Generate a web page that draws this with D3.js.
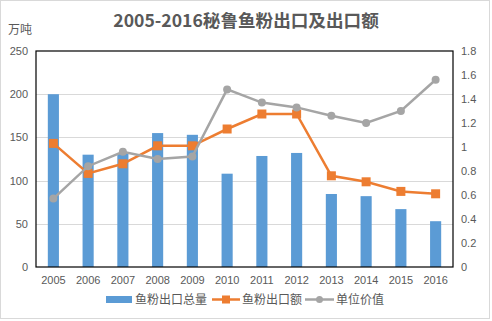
<!DOCTYPE html>
<html lang="zh">
<head>
<meta charset="utf-8">
<title>2005-2016秘鲁鱼粉出口及出口额</title>
<script src="https://d3js.org/d3.v7.min.js"></script>
<style>
  body { margin: 0; background: #fff; }
  svg { font-family: "Noto Sans CJK SC", "Liberation Sans", sans-serif; }
  .tick text { fill: #595959; font-size: 11px; font-family: "Liberation Sans", "Noto Sans CJK SC", sans-serif; }
  .line { fill: none; stroke-width: 2.5px; }
</style>
</head>
<body>
<div id="chart"></div>
<script>
// data
var years = ["2005","2006","2007","2008","2009","2010","2011","2012","2013","2014","2015","2016"];
var volume = [200, 130, 132, 155, 153, 108, 128.5, 132, 84.5, 82, 67, 53];      // 鱼粉出口总量 (万吨)
var amount = [1.03, 0.78, 0.86, 1.01, 1.01, 1.15, 1.275, 1.275, 0.76, 0.71, 0.63, 0.61]; // 鱼粉出口额
var unitValue = [0.57, 0.84, 0.96, 0.90, 0.92, 1.48, 1.37, 1.33, 1.26, 1.20, 1.30, 1.56]; // 单位价值
var leftTicks = [0, 50, 100, 150, 200, 250];
var rightTicks = [0, 0.2, 0.4, 0.6, 0.8, 1, 1.2, 1.4, 1.6, 1.8];

var W = 492, H = 321;
var margin = {top: 51, right: 39, bottom: 54, left: 36},
    width = W - margin.left - margin.right,
    height = H - margin.top - margin.bottom;

var svg = d3.select("#chart").append("svg")
    .attr("width", W)
    .attr("height", H);

// outer chart border
svg.append("rect")
    .attr("x", 0.5).attr("y", 0.5)
    .attr("width", W - 3).attr("height", H - 3)
    .attr("fill", "#fff")
    .attr("stroke", "#d9d9d9");

// title
svg.append("text")
    .attr("x", 246).attr("y", 27)
    .attr("text-anchor", "middle")
    .attr("fill", "#595959")
    .style("font-size", "17.6px")
    .style("font-weight", "bold")
    .text("2005-2016秘鲁鱼粉出口及出口额");

svg.append("text")
    .attr("x", 8).attr("y", 34)
    .attr("fill", "#595959")
    .style("font-size", "12px")
    .text("万吨");

var g = svg.append("g")
    .attr("transform", "translate(" + margin.left + "," + margin.top + ")");

var x = d3.scaleBand().domain(years).range([0, width]).paddingInner(0.68).paddingOuter(0.34);
var xp = function(d) { return x(d) + x.bandwidth() / 2; };
var y = d3.scaleLinear().domain([0, 250]).range([height, 0]);
var y2 = d3.scaleLinear().domain([0, 1.8]).range([height, 0]);

// gridlines
g.append("g")
  .selectAll("line")
  .data(leftTicks.slice(1, -1))
  .enter().append("line")
    .attr("x1", 0).attr("x2", width)
    .attr("y1", function(d) { return Math.round(y(d)) + 0.5; })
    .attr("y2", function(d) { return Math.round(y(d)) + 0.5; })
    .attr("stroke", "#d9d9d9");

// bars
g.append("g")
  .selectAll("rect")
  .data(volume)
  .enter().append("rect")
    .attr("x", function(d, i) { return x(years[i]); })
    .attr("y", function(d) { return y(d); })
    .attr("width", x.bandwidth())
    .attr("height", function(d) { return height - y(d); })
    .attr("fill", "#5b9bd5");

// plot frame
g.append("rect")
    .attr("x", 0).attr("y", 0)
    .attr("width", width).attr("height", height)
    .attr("fill", "none")
    .attr("stroke", "#000")
    .attr("stroke-width", 1.2);

// export amount line
var lineAmount = d3.line()
    .x(function(d, i) { return xp(years[i]); })
    .y(function(d) { return y2(d); });

g.append("path")
    .datum(amount)
    .attr("class", "line")
    .attr("stroke", "#ed7d31")
    .attr("d", lineAmount);

g.append("g")
  .selectAll("rect")
  .data(amount)
  .enter().append("rect")
    .attr("x", function(d, i) { return xp(years[i]) - 4.5; })
    .attr("y", function(d) { return y2(d) - 4.5; })
    .attr("width", 9).attr("height", 9)
    .attr("fill", "#ed7d31");

// unit value line
g.append("path")
    .datum(unitValue)
    .attr("class", "line")
    .attr("stroke", "#a5a5a5")
    .attr("d", lineAmount);

g.append("g")
  .selectAll("circle")
  .data(unitValue)
  .enter().append("circle")
    .attr("cx", function(d, i) { return xp(years[i]); })
    .attr("cy", function(d) { return y2(d); })
    .attr("r", 4)
    .attr("fill", "#a5a5a5");

// axes
var ax = g.append("g")
    .attr("transform", "translate(0," + height + ")")
    .call(d3.axisBottom(x).tickSize(0).tickPadding(9));
ax.select(".domain").remove();

var ayl = g.append("g")
    .call(d3.axisLeft(y).tickValues(leftTicks).tickSize(0).tickPadding(8));
ayl.select(".domain").remove();

var ayr = g.append("g")
    .attr("transform", "translate(" + width + ",0)")
    .call(d3.axisRight(y2).tickValues(rightTicks).tickSize(0).tickPadding(8)
      .tickFormat(function(d) { return d3.format("")(+d.toFixed(1)); }));
ayr.select(".domain").remove();

// legend
var legend = svg.append("g").style("font-size", "12px").attr("fill", "#595959");

legend.append("rect")
    .attr("x", 106).attr("y", 296).attr("width", 26).attr("height", 7)
    .attr("fill", "#5b9bd5");
legend.append("text").attr("x", 135).attr("y", 304).text("鱼粉出口总量");

legend.append("line")
    .attr("x1", 212).attr("x2", 240).attr("y1", 299.5).attr("y2", 299.5)
    .attr("stroke", "#ed7d31").attr("stroke-width", 2.5);
legend.append("rect")
    .attr("x", 222).attr("y", 295.5).attr("width", 8).attr("height", 8)
    .attr("fill", "#ed7d31");
legend.append("text").attr("x", 242).attr("y", 304).text("鱼粉出口额");

legend.append("line")
    .attr("x1", 305).attr("x2", 334).attr("y1", 299.5).attr("y2", 299.5)
    .attr("stroke", "#a5a5a5").attr("stroke-width", 2.5);
legend.append("circle")
    .attr("cx", 319.5).attr("cy", 299.5).attr("r", 3.5)
    .attr("fill", "#a5a5a5");
legend.append("text").attr("x", 336).attr("y", 304).text("单位价值");
</script>
</body>
</html>
